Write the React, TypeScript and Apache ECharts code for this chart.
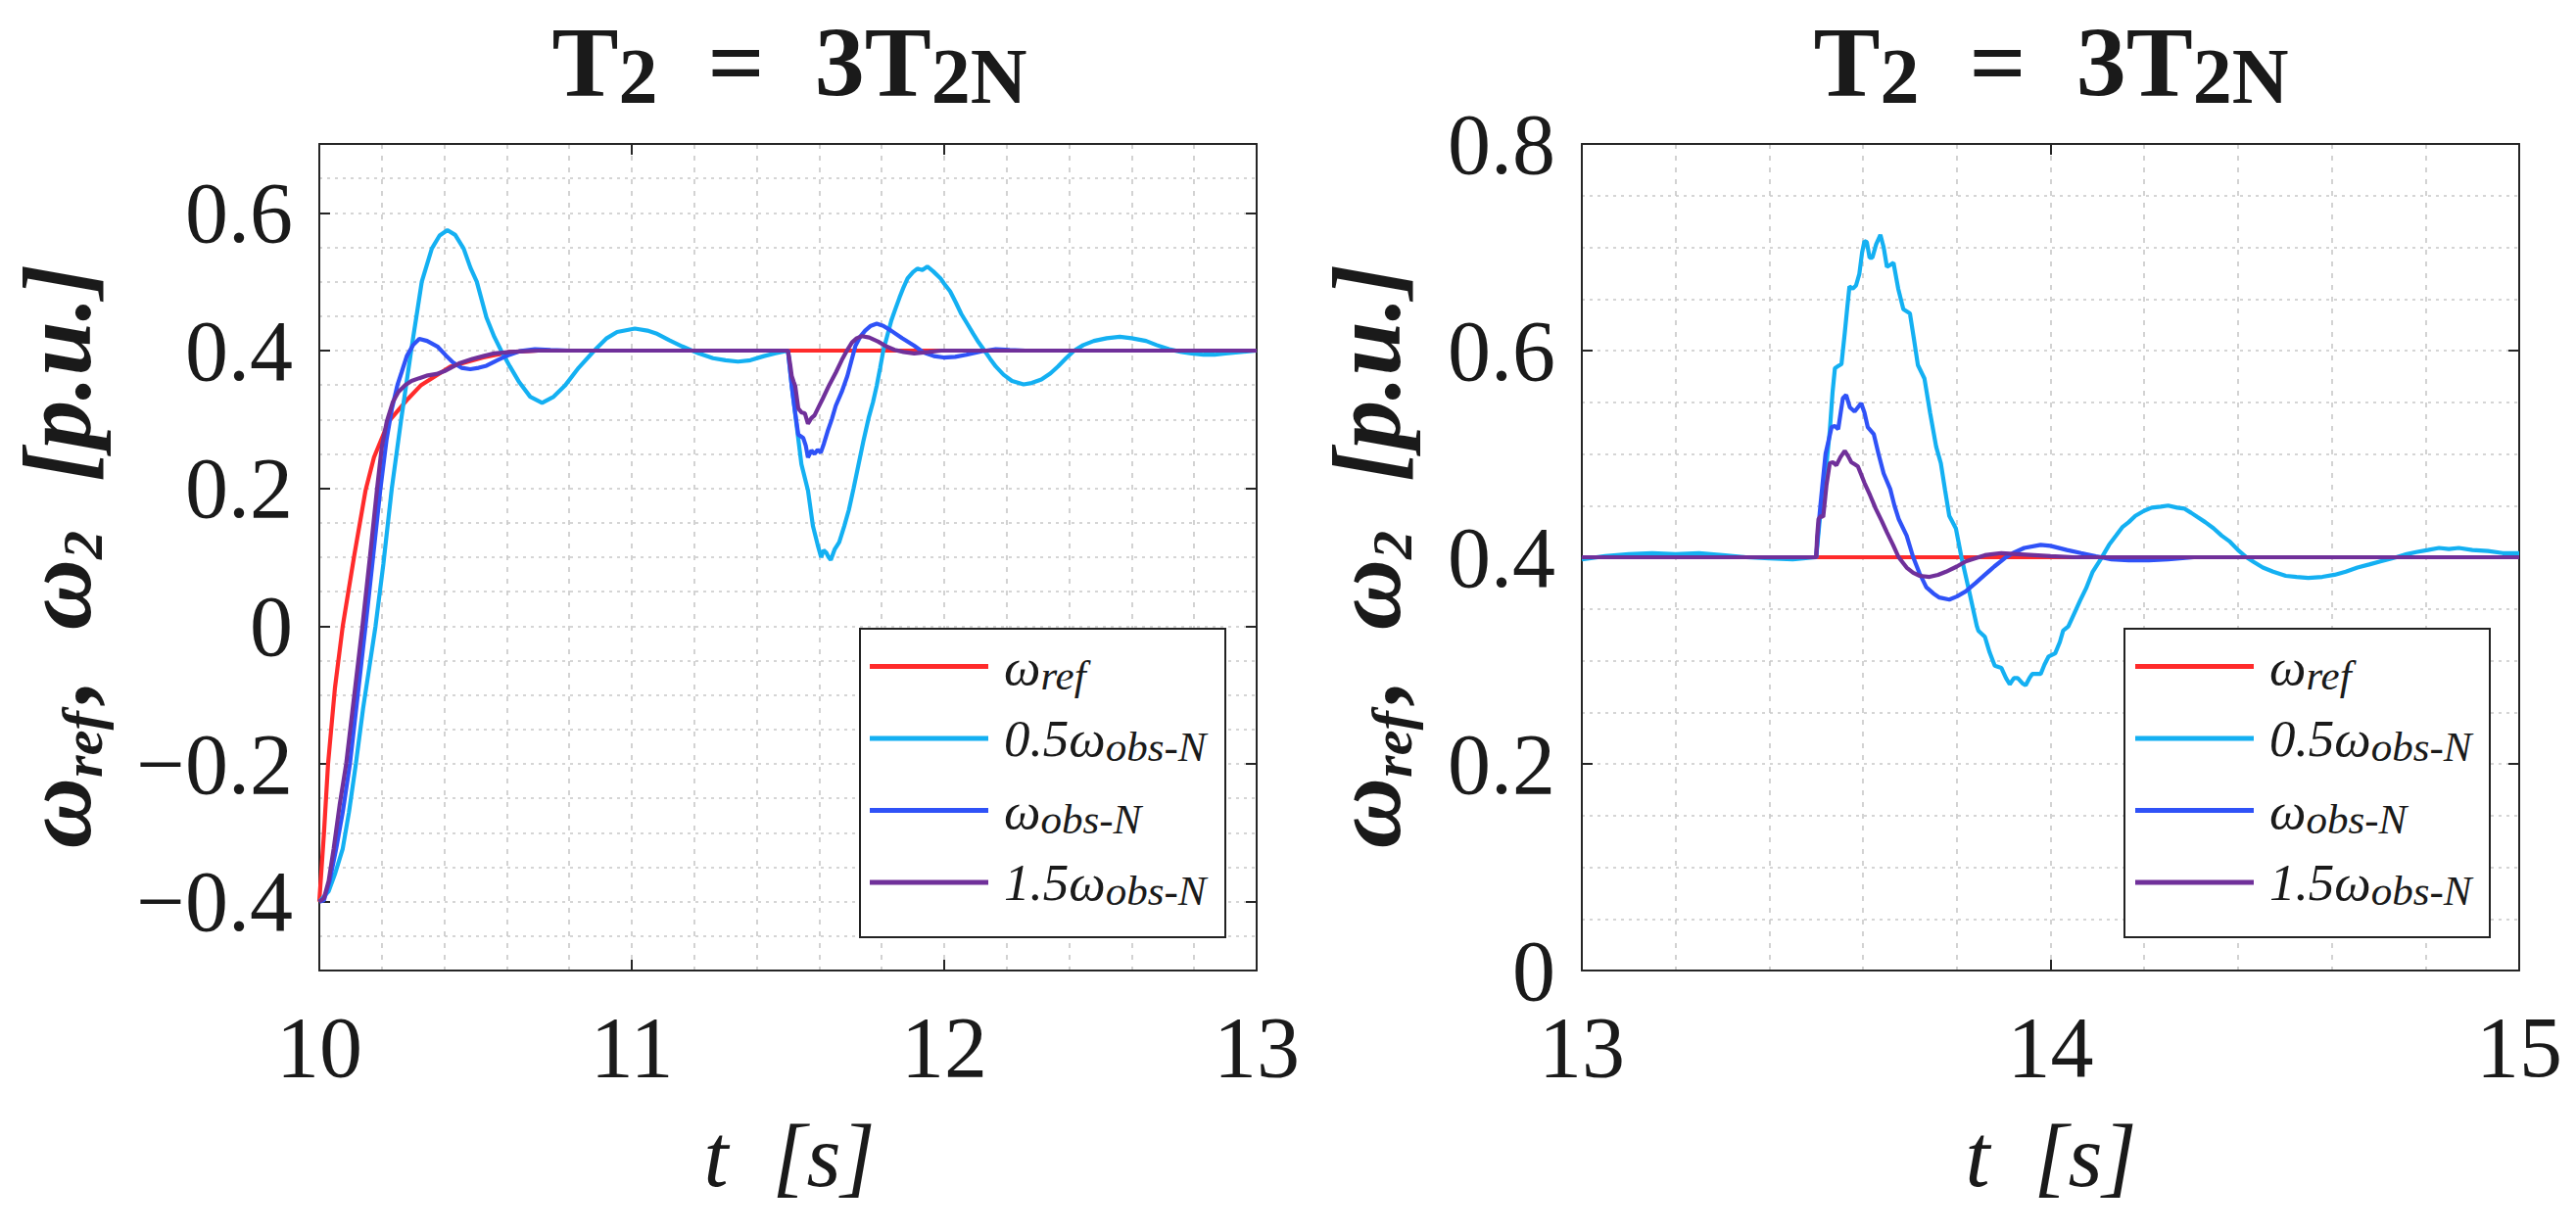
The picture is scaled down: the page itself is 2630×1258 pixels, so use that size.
import React, { useEffect, useRef } from 'react';
import * as echarts from 'echarts';

const SERIF = 'Liberation Serif';
const TEXT = '#1a1a1a';

const seriesNames = ['ω_ref', '0.5ω_obs-N', 'ω_obs-N', '1.5ω_obs-N'];
const seriesColors = ['#ff2b2b', '#14b0f2', '#2f52f7', '#70309a'];
const legendLabels = ['{a|ω}{s|ref}', '{a|0.5ω}{s|obs-N}', '{a|ω}{s|obs-N}', '{a|1.5ω}{s|obs-N}'];

const leftXTicks = [10, 11, 12, 13];
const leftYTicks = [-0.4, -0.2, 0, 0.2, 0.4, 0.6];
const rightXTicks = [13, 14, 15];
const rightYTicks = [0, 0.2, 0.4, 0.6, 0.8];

// ---------- left panel (t = 10 .. 13 s) ----------
const leftRef = [
  [10.0, -0.4], [10.015, -0.3], [10.028, -0.2], [10.05, -0.09], [10.075, 0.0], [10.112, 0.103],
  [10.148, 0.197], [10.175, 0.245], [10.222, 0.297], [10.284, 0.33], [10.326, 0.35], [10.42, 0.377],
  [10.525, 0.39], [10.61, 0.398], [10.7, 0.4], [13.0, 0.4],
];

const leftHalf = [
  [10.0, -0.4], [10.03, -0.385], [10.05, -0.36], [10.075, -0.323], [10.095, -0.27], [10.117, -0.2],
  [10.14, -0.12], [10.16, -0.06], [10.18, 0.0], [10.205, 0.09], [10.232, 0.2], [10.262, 0.3],
  [10.294, 0.4], [10.328, 0.5], [10.36, 0.548], [10.385, 0.567], [10.41, 0.575], [10.435, 0.568],
  [10.462, 0.548], [10.484, 0.52], [10.504, 0.5], [10.535, 0.448], [10.56, 0.42], [10.582, 0.4],
  [10.61, 0.377], [10.64, 0.354], [10.675, 0.333], [10.713, 0.324], [10.75, 0.333], [10.786, 0.349],
  [10.83, 0.375], [10.88, 0.4], [10.92, 0.418], [10.953, 0.427], [11.01, 0.432], [11.05, 0.429],
  [11.078, 0.425], [11.12, 0.415], [11.162, 0.406], [11.214, 0.396], [11.26, 0.389], [11.3, 0.386],
  [11.34, 0.384], [11.38, 0.386], [11.423, 0.392], [11.46, 0.396], [11.5, 0.4],
  [11.512, 0.349], [11.528, 0.29], [11.543, 0.235], [11.564, 0.197], [11.58, 0.145], [11.595, 0.118],
  [11.606, 0.1], [11.614, 0.11], [11.622, 0.107], [11.63, 0.1], [11.637, 0.096], [11.65, 0.112],
  [11.664, 0.122], [11.68, 0.145], [11.695, 0.169], [11.71, 0.2], [11.726, 0.235], [11.742, 0.27],
  [11.758, 0.302], [11.772, 0.325], [11.784, 0.349], [11.795, 0.375], [11.805, 0.4], [11.818, 0.422],
  [11.831, 0.444], [11.845, 0.462], [11.857, 0.477], [11.87, 0.492], [11.883, 0.505], [11.9, 0.514],
  [11.914, 0.519], [11.93, 0.517], [11.946, 0.522], [11.965, 0.515], [11.988, 0.505], [12.0, 0.497],
  [12.019, 0.486], [12.037, 0.47], [12.055, 0.453], [12.075, 0.438], [12.092, 0.425], [12.11, 0.412],
  [12.129, 0.4], [12.147, 0.388], [12.165, 0.377], [12.19, 0.365], [12.217, 0.356], [12.254, 0.351],
  [12.28, 0.353], [12.311, 0.358], [12.34, 0.367], [12.364, 0.377], [12.39, 0.389], [12.416, 0.4],
  [12.445, 0.408], [12.479, 0.414], [12.52, 0.418], [12.562, 0.42], [12.6, 0.418], [12.646, 0.414],
  [12.68, 0.408], [12.719, 0.402], [12.76, 0.398], [12.792, 0.396], [12.83, 0.394], [12.865, 0.394],
  [12.9, 0.396], [12.949, 0.398], [13.0, 0.4],
];

const leftObs = [
  [10.0, -0.4], [10.015, -0.398], [10.033, -0.37], [10.054, -0.323], [10.075, -0.27], [10.098, -0.2],
  [10.123, -0.1], [10.148, 0.0], [10.172, 0.1], [10.195, 0.197], [10.215, 0.27], [10.232, 0.315],
  [10.25, 0.35], [10.263, 0.368], [10.28, 0.392], [10.3, 0.408], [10.32, 0.417], [10.345, 0.414],
  [10.378, 0.406], [10.405, 0.393], [10.43, 0.382], [10.455, 0.375], [10.483, 0.373], [10.51, 0.375],
  [10.535, 0.378], [10.565, 0.385], [10.598, 0.392], [10.64, 0.399], [10.69, 0.402], [10.74, 0.401],
  [10.8, 0.4], [11.5, 0.4],
  [11.512, 0.349], [11.523, 0.31], [11.533, 0.278], [11.549, 0.273], [11.557, 0.262], [11.564, 0.245],
  [11.575, 0.255], [11.585, 0.25], [11.595, 0.256], [11.605, 0.252], [11.615, 0.265], [11.627, 0.283],
  [11.64, 0.3], [11.653, 0.32], [11.672, 0.34], [11.69, 0.363], [11.703, 0.385], [11.716, 0.407],
  [11.731, 0.42], [11.747, 0.429], [11.765, 0.436], [11.784, 0.439], [11.805, 0.436], [11.83, 0.429],
  [11.865, 0.418], [11.904, 0.407], [11.935, 0.397], [11.967, 0.392], [11.998, 0.39], [12.035, 0.391],
  [12.071, 0.394], [12.12, 0.399], [12.165, 0.402], [12.21, 0.401], [12.26, 0.4], [13.0, 0.4],
];

const leftOneHalf = [
  [10.0, -0.4], [10.015, -0.395], [10.03, -0.37], [10.046, -0.323], [10.065, -0.26], [10.086, -0.2],
  [10.112, -0.1], [10.138, 0.0], [10.162, 0.1], [10.185, 0.2], [10.2, 0.26], [10.216, 0.297],
  [10.235, 0.325], [10.253, 0.34], [10.275, 0.35], [10.295, 0.356], [10.32, 0.36], [10.347, 0.364],
  [10.375, 0.366], [10.4, 0.37], [10.425, 0.376], [10.45, 0.382], [10.49, 0.388], [10.525, 0.392],
  [10.56, 0.396], [10.61, 0.398], [10.7, 0.4], [11.5, 0.4],
  [11.502, 0.4], [11.507, 0.38], [11.512, 0.363], [11.518, 0.355], [11.523, 0.349], [11.533, 0.316],
  [11.544, 0.31], [11.554, 0.309], [11.564, 0.294], [11.575, 0.302], [11.585, 0.306], [11.598, 0.318],
  [11.611, 0.33], [11.632, 0.35], [11.653, 0.368], [11.672, 0.386], [11.69, 0.401], [11.705, 0.412],
  [11.72, 0.418], [11.737, 0.421], [11.76, 0.419], [11.789, 0.413], [11.815, 0.406], [11.841, 0.401],
  [11.87, 0.398], [11.904, 0.396], [11.95, 0.398], [11.99, 0.4], [13.0, 0.4],
];

// ---------- right panel (t = 13 .. 15 s) ----------
const rightRef = [[13.0, 0.4], [15.0, 0.4]];

const rightHalf = [
  [13.0, 0.398], [13.05, 0.401], [13.1, 0.403], [13.15, 0.404], [13.2, 0.403], [13.25, 0.404],
  [13.3, 0.402], [13.35, 0.4], [13.4, 0.399], [13.45, 0.398], [13.5, 0.4],
  [13.509, 0.443], [13.515, 0.467], [13.522, 0.49], [13.529, 0.522], [13.535, 0.56], [13.54, 0.583],
  [13.547, 0.585], [13.554, 0.587], [13.561, 0.617], [13.566, 0.64], [13.571, 0.662], [13.578, 0.66],
  [13.585, 0.663], [13.592, 0.674], [13.598, 0.695], [13.603, 0.706], [13.608, 0.705], [13.614, 0.69],
  [13.62, 0.69], [13.628, 0.703], [13.637, 0.712], [13.644, 0.7], [13.651, 0.681], [13.658, 0.683],
  [13.665, 0.685], [13.675, 0.66], [13.686, 0.64], [13.7, 0.636], [13.709, 0.61], [13.717, 0.586],
  [13.731, 0.573], [13.743, 0.54], [13.756, 0.507], [13.766, 0.491], [13.775, 0.465], [13.784, 0.44],
  [13.798, 0.428], [13.81, 0.4], [13.826, 0.368], [13.843, 0.333], [13.846, 0.329], [13.86, 0.323],
  [13.87, 0.308], [13.881, 0.295], [13.895, 0.293], [13.905, 0.283], [13.913, 0.277], [13.922, 0.283],
  [13.93, 0.283], [13.94, 0.278], [13.947, 0.276], [13.955, 0.283], [13.961, 0.287], [13.979, 0.287],
  [13.987, 0.296], [13.996, 0.304], [14.01, 0.307], [14.02, 0.318], [14.027, 0.329], [14.038, 0.333],
  [14.05, 0.345], [14.063, 0.358], [14.076, 0.37], [14.09, 0.386], [14.107, 0.398], [14.125, 0.412],
  [14.14, 0.421], [14.153, 0.429], [14.167, 0.434], [14.181, 0.44], [14.2, 0.445], [14.216, 0.448],
  [14.235, 0.449], [14.251, 0.45], [14.27, 0.448], [14.286, 0.447], [14.3, 0.443], [14.313, 0.439],
  [14.33, 0.434], [14.348, 0.428], [14.365, 0.421], [14.383, 0.415], [14.4, 0.407], [14.418, 0.4],
  [14.435, 0.395], [14.453, 0.39], [14.475, 0.386], [14.502, 0.382], [14.525, 0.381], [14.55, 0.38],
  [14.58, 0.381], [14.606, 0.383], [14.63, 0.386], [14.655, 0.39], [14.68, 0.393], [14.704, 0.396],
  [14.738, 0.4], [14.76, 0.403], [14.78, 0.405], [14.805, 0.407], [14.829, 0.409], [14.85, 0.408],
  [14.871, 0.409], [14.9, 0.407], [14.933, 0.406], [14.965, 0.404], [15.0, 0.404],
];

const rightObs = [
  [13.0, 0.4], [13.5, 0.4], [13.505, 0.43], [13.509, 0.45], [13.52, 0.5], [13.533, 0.526],
  [13.54, 0.527], [13.547, 0.524], [13.557, 0.554], [13.564, 0.557], [13.572, 0.545], [13.582, 0.541],
  [13.596, 0.549], [13.603, 0.54], [13.61, 0.526], [13.623, 0.519], [13.633, 0.5], [13.644, 0.481],
  [13.658, 0.466], [13.667, 0.45], [13.676, 0.437], [13.693, 0.421], [13.707, 0.4], [13.72, 0.385],
  [13.735, 0.371], [13.75, 0.365], [13.763, 0.361], [13.784, 0.359], [13.8, 0.362], [13.819, 0.367],
  [13.84, 0.375], [13.86, 0.383], [13.88, 0.391], [13.902, 0.399], [13.92, 0.404], [13.944, 0.409],
  [13.979, 0.412], [14.0, 0.411], [14.035, 0.407], [14.065, 0.404], [14.097, 0.401], [14.13, 0.398],
  [14.167, 0.397], [14.21, 0.397], [14.251, 0.398], [14.306, 0.4], [15.0, 0.4],
];

const rightOneHalf = [
  [13.0, 0.4], [13.5, 0.4], [13.502, 0.42], [13.505, 0.437], [13.51, 0.44], [13.515, 0.439],
  [13.522, 0.47], [13.529, 0.491], [13.536, 0.492], [13.543, 0.489], [13.552, 0.497], [13.561, 0.503],
  [13.568, 0.498], [13.575, 0.492], [13.582, 0.49], [13.589, 0.488], [13.596, 0.48], [13.603, 0.472],
  [13.615, 0.46], [13.627, 0.447], [13.64, 0.435], [13.651, 0.424], [13.664, 0.412], [13.676, 0.4],
  [13.693, 0.39], [13.707, 0.385], [13.721, 0.382], [13.742, 0.381], [13.76, 0.383], [13.777, 0.386],
  [13.8, 0.391], [13.819, 0.396], [13.84, 0.399], [13.86, 0.402], [13.895, 0.404], [13.93, 0.403],
  [13.965, 0.402], [14.0, 0.401], [14.05, 0.4], [15.0, 0.4],
];

const leftData = [leftRef, leftHalf, leftObs, leftOneHalf];
const rightData = [rightRef, rightHalf, rightObs, rightOneHalf];

// ---------- layout ----------
const GRID_TOP = 147;
const GRID_H = 844;
const GRID_W = 957;
const LEFT_X = 326;
const RIGHT_X = 1615;

const AXIS_COLOR = '#262626';
const GRID_COLOR = '#c8c8c8';
const axisLine = { show: true, onZero: false, lineStyle: { color: AXIS_COLOR, width: 2 } };

function fmtX(v: number) {
  const r = Math.round(v * 1000) / 1000;
  return Number.isInteger(r) ? String(r) : '';
}
function fmtY(v: number) {
  const k = v / 0.2;
  if (Math.abs(k - Math.round(k)) > 1e-6) return '';
  const r = Math.round(v * 10) / 10;
  if (r === 0) return '0';
  return (r < 0 ? '\u2212' : '') + Math.abs(r).toFixed(1);
}

function xAxes(grid: number, min: number, max: number, ticks: number[]) {
  const tick = { show: true, inside: true, length: 11, customValues: ticks, lineStyle: { color: AXIS_COLOR, width: 2 } };
  return [
    {
      gridIndex: grid, type: 'value', min, max, interval: 1, position: 'bottom', axisLine, axisTick: tick,
      axisLabel: { show: true, customValues: ticks, formatter: fmtX, fontFamily: SERIF, fontSize: 88, color: TEXT, margin: 34 },
      splitLine: { show: false },
    },
    {
      gridIndex: grid, type: 'value', min, max, interval: 1, position: 'top', axisLine, axisTick: tick,
      axisLabel: { show: false }, splitLine: { show: false },
    },
    {
      // grid lines every 0.2 s
      gridIndex: grid, type: 'value', min, max, interval: 0.2, position: 'bottom',
      axisLine: { show: false }, axisTick: { show: false }, axisLabel: { show: false },
      splitLine: { show: true, lineStyle: { color: GRID_COLOR, width: 1.6, type: [5, 7] } },
    },
  ];
}

function yAxes(grid: number, min: number, max: number, ticks: number[]) {
  const tick = { show: true, inside: true, length: 11, customValues: ticks, lineStyle: { color: AXIS_COLOR, width: 2 } };
  return [
    {
      gridIndex: grid, type: 'value', min, max, interval: 0.1, position: 'left', axisLine, axisTick: tick,
      axisLabel: { show: true, customValues: ticks, formatter: fmtY, fontFamily: SERIF, fontSize: 88, color: TEXT, margin: 27 },
      splitLine: { show: false },
    },
    {
      gridIndex: grid, type: 'value', min, max, interval: 0.1, position: 'right', axisLine, axisTick: tick,
      axisLabel: { show: false }, splitLine: { show: false },
    },
    {
      // grid lines every 0.05
      gridIndex: grid, type: 'value', min, max, interval: 0.05, position: 'left',
      axisLine: { show: false }, axisTick: { show: false }, axisLabel: { show: false },
      splitLine: { show: true, lineStyle: { color: GRID_COLOR, width: 1.6, type: [3, 5] } },
    },
  ];
}

function lineSeries(data: number[][][], xIndex: number, yIndex: number) {
  return data.map((d, i) => ({
    name: seriesNames[i],
    type: 'line',
    xAxisIndex: xIndex,
    yAxisIndex: yIndex,
    data: d,
    showSymbol: false,
    symbol: 'none',
    clip: true,
    lineStyle: { color: seriesColors[i], width: 4.2 },
    itemStyle: { color: seriesColors[i] },
    z: 2 + i * 0.1,
  }));
}

function legend(left: number) {
  return {
    show: true,
    orient: 'vertical',
    left,
    top: 654,
    padding: 0,
    itemGap: 17,
    itemWidth: 121,
    itemHeight: 5,
    icon: 'rect',
    selectedMode: false,
    z: 100,
    data: seriesNames,
    formatter: (name: string) => legendLabels[seriesNames.indexOf(name)],
    textStyle: {
      fontFamily: SERIF, fontStyle: 'italic', fontSize: 53, color: TEXT,
      rich: {
        a: { fontFamily: SERIF, fontStyle: 'italic', fontSize: 53, color: TEXT, lineHeight: 60, padding: [0, 0, 0, 11] },
        s: { fontFamily: SERIF, fontStyle: 'italic', fontSize: 43, color: TEXT, lineHeight: 32, verticalAlign: 'bottom' },
      },
    },
  };
}

function tok(size: number, weight: string, style: string, lineHeight: number, vAlign?: string, padding?: number[]) {
  const t: any = { fontFamily: SERIF, fontSize: size, fontWeight: weight, fontStyle: style, fill: TEXT, lineHeight };
  if (vAlign) t.verticalAlign = vAlign;
  if (padding) t.padding = padding;
  return t;
}

function title(cx: number) {
  return {
    type: 'text', x: cx, y: 63, z: 10,
    style: {
      text: '{t|T}{s|2}{t|  =  3T}{s|2N}',
      align: 'center', verticalAlign: 'middle', fill: TEXT,
      fontFamily: SERIF, fontSize: 102, fontWeight: 'bold',
      rich: { t: tok(102, 'bold', 'normal', 110), s: tok(80, 'bold', 'normal', 68, 'bottom') },
    },
  };
}

function xName(cx: number) {
  return {
    type: 'text', x: cx, y: 1180, z: 10,
    style: {
      text: 't  [s]', align: 'center', verticalAlign: 'middle', fill: TEXT,
      fontFamily: SERIF, fontSize: 90, fontStyle: 'italic',
    },
  };
}

function yName(cx: number) {
  return {
    type: 'text', x: cx, y: 568, rotation: Math.PI / 2, z: 10,
    style: {
      text: '{w|ω}{s|ref}{c|,}{w|  ω}{s|2}{w|  [p.u.]}',
      align: 'center', verticalAlign: 'middle', fill: TEXT,
      fontFamily: SERIF, fontSize: 100, fontWeight: 'bold', fontStyle: 'italic',
      rich: {
        w: tok(100, 'bold', 'italic', 110),
        c: tok(100, 'bold', 'italic', 110, undefined, [0, 0, 0, 8]),
        s: tok(58, 'bold', 'italic', 40, 'bottom'),
      },
    },
  };
}

function legendBox(x: number) {
  return {
    type: 'rect', z: 50,
    shape: { x, y: 642, width: 373, height: 315 },
    style: { fill: '#ffffff', stroke: '#222222', lineWidth: 2 },
  };
}

export default function App() {
  const ref = useRef<HTMLDivElement>(null);
  useEffect(() => {
    if (!ref.current) return;
    const chart = echarts.init(ref.current, undefined, { renderer: 'svg' });
    const option: any = {
      animation: false,
      backgroundColor: '#ffffff',
      grid: [
        { left: LEFT_X, top: GRID_TOP, width: GRID_W, height: GRID_H, containLabel: false },
        { left: RIGHT_X, top: GRID_TOP, width: GRID_W, height: GRID_H, containLabel: false },
      ],
      xAxis: [...xAxes(0, 10, 13, leftXTicks), ...xAxes(1, 13, 15, rightXTicks)],
      yAxis: [...yAxes(0, -0.5, 0.7, leftYTicks), ...yAxes(1, 0, 0.8, rightYTicks)],
      legend: [legend(888), legend(2180)],
      graphic: {
        elements: [
          title(806), title(2094),
          xName(806), xName(2094),
          yName(58), yName(1395),
          legendBox(878), legendBox(2169),
        ],
      },
      series: [...lineSeries(leftData, 0, 0), ...lineSeries(rightData, 3, 3)],
    };
    chart.setOption(option);
    return () => chart.dispose();
  }, []);
  return (
    <div
      ref={ref}
      style={{ position: 'absolute', left: 0, top: 0, width: 2630, height: 1258, background: '#fff' }}
    />
  );
}
